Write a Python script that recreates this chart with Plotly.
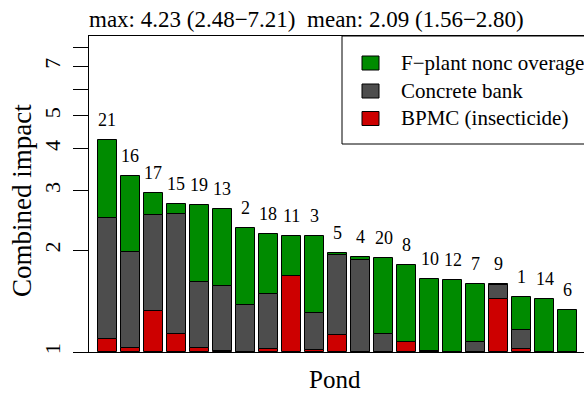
import numpy as np
import plotly.graph_objects as go

# Ponds ordered by combined impact; each stacked level is a cumulative product
ponds = ["21", "16", "17", "15", "19", "13", "2", "18", "11", "3", "5",
         "4", "20", "8", "10", "12", "7", "9", "1", "14", "6"]
bpmc_level = [1.093, 1.030, 1.326, 1.128, 1.030, 1.007, 1.000, 1.023, 1.679, 1.014, 1.126,
              1.003, 1.002, 1.074, 1.002, 1.000, 1.000, 1.439, 1.019, 1.000, 1.000]
concrete_level = [2.494, 1.974, 2.540, 2.569, 1.612, 1.568, 1.381, 1.489, 1.679, 1.305, 1.943,
                  1.869, 1.128, 1.074, 1.004, 1.002, 1.074, 1.584, 1.165, 1.000, 1.000]
combined = [4.23, 3.33, 2.965, 2.744, 2.716, 2.646, 2.329, 2.242, 2.211, 2.201, 1.970,
            1.917, 1.898, 1.815, 1.645, 1.630, 1.590, 1.586, 1.459, 1.432, 1.335]

y_ticks = [1, 2, 3, 4, 5, 6, 7, 8]
y_ticktext = ["1", "2", "3", "4", "5", "", "7", ""]

series = ["F\u2212plant nonc overage", "Concrete bank", "BPMC (insecticide)"]
colors = {"green": "#008B00", "grey": "#4D4D4D", "red": "#CD0000"}

FONT = "Liberation Serif"
W, H = 584, 394
L, R, T, B = 89, 0, 36, 42
PW, PH = W - L - R, H - T - B

def px(x):
    return (x - L) / PW

def py(y):
    return (H - B - y) / PH

x = np.arange(len(ponds))
one = np.ones(len(ponds))
bpmc = np.array(bpmc_level)
conc = np.array(concrete_level)
tot = np.array(combined)

fig = go.Figure()
segments = [
    (one, bpmc, colors["red"]),
    (bpmc, conc, colors["grey"]),
    (conc, tot, colors["green"]),
]
for lo, hi, col in segments:
    fig.add_trace(go.Bar(
        x=x, base=lo, y=hi - lo, width=0.833,
        marker=dict(color=col, line=dict(color="black", width=1)),
        showlegend=False, hoverinfo="skip",
    ))

# Pond number above each bar
for xi, name, top in zip(x, ponds, combined):
    fig.add_annotation(x=xi, y=np.log10(top), text=name, showarrow=False,
                       xanchor="center", yanchor="bottom", yshift=8,
                       font=dict(family=FONT, size=18, color="black"))

# Legend box drawn by hand
fig.add_shape(type="rect", xref="paper", yref="paper",
              x0=px(342), x1=px(600), y0=py(144), y1=py(36),
              line=dict(color="black", width=1), fillcolor="white", layer="above")
for label, col, cy in zip(series, [colors["green"], colors["grey"], colors["red"]], [63, 91, 118.5]):
    fig.add_shape(type="rect", xref="paper", yref="paper",
                  x0=px(362), x1=px(379), y0=py(cy + 7), y1=py(cy - 7),
                  line=dict(color="black", width=1), fillcolor=col, layer="above")
    fig.add_annotation(xref="paper", yref="paper", x=px(399), y=py(cy), text=label,
                       showarrow=False, xanchor="left", yanchor="middle",
                       font=dict(family=FONT, size=21, color="black"))

# Summary line above the plot
fig.add_annotation(xref="paper", yref="paper", x=px(87), y=py(20), text="max: 4.23 (2.48\u22127.21)  mean: 2.09 (1.56\u22122.80)",
                   showarrow=False, xanchor="left", yanchor="middle",
                   font=dict(family=FONT, size=23, color="black"))

# Axis titles
fig.add_annotation(xref="paper", yref="paper", x=px(335), y=py(379), text="Pond",
                   showarrow=False, xanchor="center", yanchor="middle",
                   font=dict(family=FONT, size=25, color="black"))
fig.add_annotation(xref="paper", yref="paper", x=px(22), y=py(201), text="Combined impact",
                   showarrow=False, xanchor="center", yanchor="middle", textangle=-90,
                   font=dict(family=FONT, size=27, color="black"))

fig.update_layout(
    width=W, height=H, margin=dict(l=L, r=R, t=T, b=B),
    paper_bgcolor="white", plot_bgcolor="white",
    barmode="overlay", bargap=0,
    font=dict(family=FONT, color="black"),
    xaxis=dict(range=[-0.804, (W - 107.5) / 23.0], showgrid=False, zeroline=False,
               showticklabels=False, ticks="", showline=True, mirror=True,
               linecolor="black", linewidth=1, fixedrange=True),
    yaxis=dict(type="log", range=[0, PH / 337.7], tickvals=y_ticks, ticktext=y_ticktext,
               ticks="outside", ticklen=15, tickwidth=1, tickcolor="black",
               showline=True, linecolor="black", linewidth=1, showgrid=False,
               zeroline=False, tickangle=-90, ticklabelstandoff=4,
               tickfont=dict(family=FONT, size=22, color="black")),
)

fig.write_html("out.html")
